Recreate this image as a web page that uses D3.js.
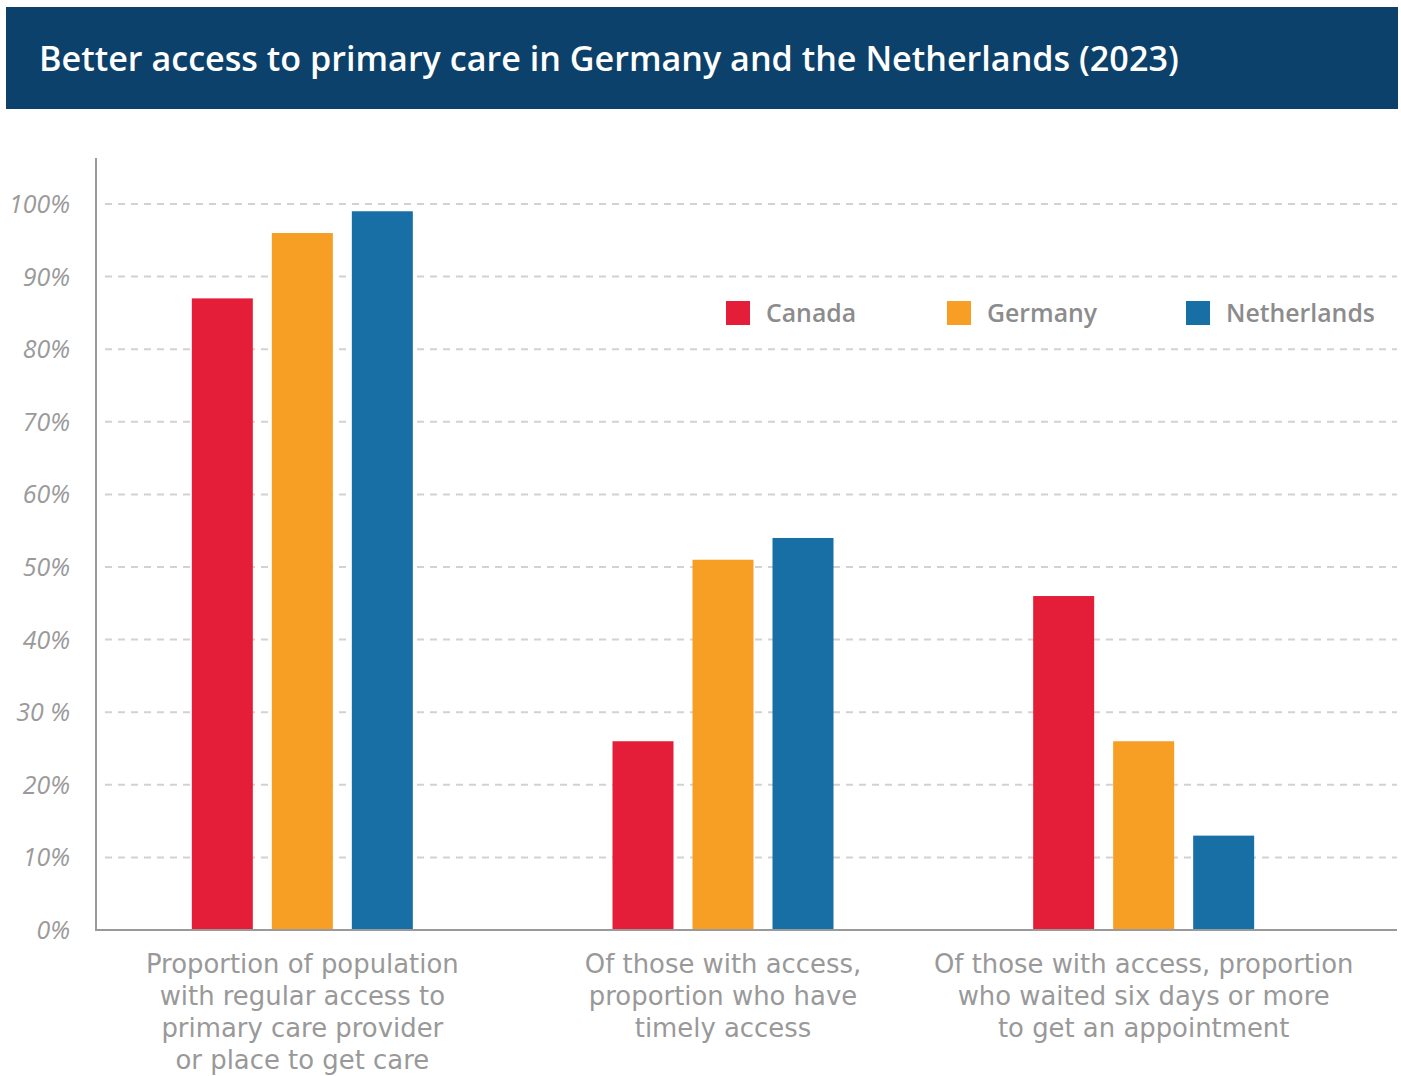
<!DOCTYPE html>
<html><head><meta charset="utf-8">
<script src="https://cdn.jsdelivr.net/npm/d3@7"></script>
<style>body{margin:0;background:#fff}svg{display:block}</style>
</head><body>
<svg id="chart" width="1401" height="1076"></svg>
<script>
const title = "Better access to primary care in Germany and the Netherlands (2023)";
const categories = [
  ["Proportion of population","with regular access to","primary care provider","or place to get care"],
  ["Of those with access,","proportion who have","timely access"],
  ["Of those with access, proportion","who waited six days or more","to get an appointment"]
];
const series = ["Canada","Germany","Netherlands"];
const canada = [87, 26, 46];
const germany = [96, 51, 26];
const netherlands = [99, 54, 13];
const yTicks = [0,10,20,30,40,50,60,70,80,90,100];
const yTickLabels = ["0%","10%","20%","30 %","40%","50%","60%","70%","80%","90%","100%"];
const colors = ["#e41e39","#f79e24","#186fa5"];
const values = [canada, germany, netherlands];

const svg = d3.select("#chart");
const FONT = "DejaVu Sans";
const FONT2 = "Open Sans";

function fit(sel, target){
  const w = sel.node().getComputedTextLength();
  const fs = parseFloat(sel.attr("font-size"));
  sel.attr("font-size", fs*target/w);
  return fs*target/w;
}

// title bar
svg.append("rect").attr("x",6).attr("y",7).attr("width",1392).attr("height",102).attr("fill","#0b416a");
const t = svg.append("text").attr("x",39).attr("y",71).attr("fill","#fff")
  .attr("font-family",FONT2).attr("font-weight",600).attr("font-size",30).text(title);
fit(t,1140);

const y = d3.scaleLinear().domain([0,100]).range([930,204]);
const x0 = d3.scaleBand().domain(d3.range(categories.length)).range([92,1354]);
const x1 = d3.scaleBand().domain(series).range([0,221]).paddingInner(19/80);

// grid
svg.append("g").selectAll("line").data(yTicks.filter(d=>d>0)).join("line")
  .attr("x1",105).attr("x2",1397).attr("y1",d=>y(d)).attr("y2",d=>y(d))
  .attr("stroke","#d2d2d2").attr("stroke-width",2).attr("stroke-dasharray","7,6");

// y labels
const yl = svg.append("g").selectAll("text").data(yTicks).join("text")
  .attr("x",70).attr("y",d=>y(d)).attr("dy","0.36em").attr("text-anchor","end")
  .attr("font-family",FONT2).attr("font-style","italic").attr("font-size",22)
  .attr("fill","#9a9a9a").text((d,i)=>yTickLabels[i]);
{
  const n = yl.filter(d=>d===100);
  const fs = fit(n,61);
  yl.attr("font-size",fs);
}

// bars
categories.forEach((c,ci)=>{
  const g = svg.append("g").attr("transform",`translate(${x0(ci)+x0.bandwidth()/2-110.5},0)`);
  g.selectAll("rect").data(series).join("rect")
    .attr("x",s=>x1(s)).attr("width",x1.bandwidth())
    .attr("y",(s,si)=>y(values[si][ci])).attr("height",(s,si)=>y(0)-y(values[si][ci]))
    .attr("fill",(s,si)=>colors[si]);
});

// axes lines
svg.append("line").attr("x1",96).attr("x2",96).attr("y1",158).attr("y2",931).attr("stroke","#9a9a9a").attr("stroke-width",2);
svg.append("line").attr("x1",95).attr("x2",1397).attr("y1",930).attr("y2",930).attr("stroke","#9a9a9a").attr("stroke-width",2);

// x labels
const xlg = svg.append("g");
let xfs = 24;
categories.forEach((lines,ci)=>{
  const cx = x0(ci)+x0.bandwidth()/2;
  lines.forEach((ln,li)=>{
    xlg.append("text").attr("class","xl"+(ci===0&&li===0?" ref":""))
      .attr("x",cx).attr("y",973+li*32).attr("text-anchor","middle")
      .attr("font-family",FONT).attr("font-size",24)
      .attr("fill","#999999").text(ln);
  });
});
xfs = fit(xlg.select(".ref"),313);
xlg.selectAll("text").attr("font-size",xfs);

// legend
const legX = [726, 947, 1186];
const lg = svg.append("g");
series.forEach((s,i)=>{
  lg.append("rect").attr("x",legX[i]).attr("y",301).attr("width",24).attr("height",24).attr("fill",colors[i]);
  lg.append("text").attr("class","lt"+(i===2?" ref":"")).attr("x",legX[i]+40).attr("y",313).attr("dy","0.36em")
    .attr("font-family",FONT2).attr("font-weight",600).attr("font-size",22).attr("fill","#8c8c8c").text(s);
});
{
  const fs = fit(lg.select(".ref"),149);
  lg.selectAll("text").attr("font-size",fs);
}
</script>
</body></html>
